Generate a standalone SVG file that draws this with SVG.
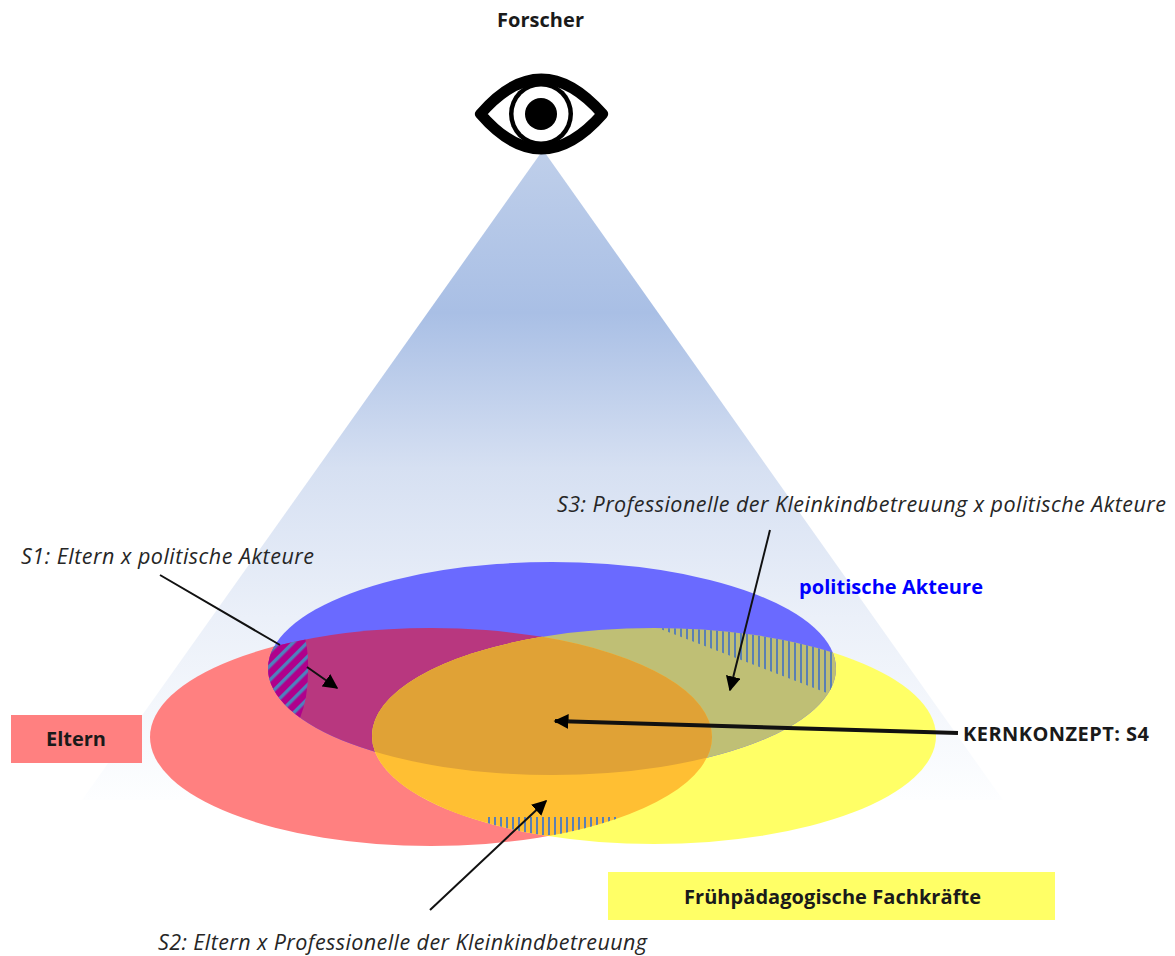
<svg xmlns="http://www.w3.org/2000/svg" width="1175" height="956" viewBox="0 0 1175 956">
<style>
text{font-family:"Open Sans","Noto Sans","Liberation Sans",sans-serif;fill:#1a1a1a}
.b{font-weight:700;font-size:20px}
.i{font-style:italic;font-size:21.500px;fill:#262626}
.ar{stroke:#111;fill:none}
</style>
<defs>
<linearGradient id="cone" x1="0" y1="0" x2="0" y2="1">
<stop offset="0" stop-color="#bfcfea"/><stop offset=".25" stop-color="#a9bfe5"/><stop offset=".49" stop-color="#d6e0f2"/><stop offset=".72" stop-color="#ebf0f9"/><stop offset="1" stop-color="#fdfeff"/>
</linearGradient>
<clipPath id="cr"><ellipse cx="431" cy="737" rx="281" ry="109"/></clipPath>
<clipPath id="cy"><ellipse cx="654" cy="736" rx="282" ry="108"/></clipPath>
<clipPath id="cb"><ellipse cx="552" cy="668.500" rx="284" ry="106.500"/></clipPath>
<clipPath id="cry" clip-path="url(#cr)"><ellipse cx="654" cy="736" rx="282" ry="108"/></clipPath>
<clipPath id="cby" clip-path="url(#cb)"><ellipse cx="654" cy="736" rx="282" ry="108"/></clipPath>
<clipPath id="cbr" clip-path="url(#cb)"><ellipse cx="431" cy="737" rx="281" ry="109"/></clipPath>
<pattern id="diag" width="10" height="10" patternUnits="userSpaceOnUse" patternTransform="rotate(45)">
<rect width="10" height="10" fill="#b0008c"/><rect width="3.400" height="10" fill="#4f81bd"/>
</pattern>
<pattern id="vert" x="662" width="6" height="10" patternUnits="userSpaceOnUse">
<rect width="2" height="10" fill="#5a80b4"/>
</pattern>
<marker id="ah" viewBox="0 0 10 10" refX="9" refY="5" markerWidth="15" markerHeight="15" markerUnits="userSpaceOnUse" orient="auto"><path d="M0 0L10 5L0 10Z" fill="#000"/></marker>
</defs>
<g id="cone-view"><path d="M543 150L1003 800H82Z" fill="url(#cone)"/></g>
<g id="sets">
<g id="set-eltern"><ellipse cx="431" cy="737" rx="281" ry="109" fill="#ff8080"/></g>
<g id="set-fachkraefte"><ellipse cx="654" cy="736" rx="282" ry="108" fill="#ffff66"/></g>
<g id="set-politik"><ellipse cx="552" cy="668.500" rx="284" ry="106.500" fill="#6a6aff"/></g>
<rect x="140" y="550" width="800" height="300" fill="#b8377f" clip-path="url(#cbr)"/>
<rect x="140" y="550" width="800" height="300" fill="#bfbf75" clip-path="url(#cby)"/>
<rect x="140" y="550" width="800" height="300" fill="#ffbf33" clip-path="url(#cry)"/>
<g clip-path="url(#cb)"><rect x="140" y="550" width="800" height="300" fill="#e0a236" clip-path="url(#cry)"/></g>
</g>
<g id="hatches">
<g id="hatch-s1" clip-path="url(#cbr)"><path d="M260 630H303Q309 650 308 672Q308 698 300 718L260 720Z" fill="url(#diag)"/></g>
<g id="hatch-s3" clip-path="url(#cb)"><g clip-path="url(#cy)"><path d="M650 625L845 700V620H650Z" fill="url(#vert)"/></g></g>
<g id="hatch-s2" clip-path="url(#cr)"><g clip-path="url(#cy)"><rect x="486" y="817" width="132" height="18" fill="url(#vert)"/></g></g>
</g>
<g id="eye">
<path d="M480.500 114Q541 44 602.500 114Q541 184 480.500 114Z" fill="#fff" stroke="#000" stroke-width="11" stroke-linejoin="round"/>
<circle cx="541" cy="114" r="32" fill="#000"/>
<circle cx="541" cy="114" r="27.500" fill="#fff"/>
<circle cx="541" cy="114" r="16" fill="#000"/>
</g>
<g id="connectors">
<path class="ar" stroke-width="2" d="M160 575L280 645M307 667L337 688" marker-end="url(#ah)"/>
<path class="ar" stroke-width="2" d="M770 530L730 690" marker-end="url(#ah)"/>
<path class="ar" stroke-width="2" d="M430 910L546 801" marker-end="url(#ah)"/>
<path class="ar" stroke-width="4" d="M958 733L555 721" marker-end="url(#ah)"/>
</g>
<g id="label-forscher"><text class="b" x="497" y="27" textLength="87">Forscher</text></g>
<g id="label-eltern"><rect x="11" y="715" width="131" height="48" fill="#ff8080"/><text class="b" x="46" y="746" textLength="60">Eltern</text></g>
<g id="label-fach"><rect x="608" y="872" width="447" height="48" fill="#ffff66"/><text class="b" x="684" y="904" textLength="297">Frühpädagogische Fachkräfte</text></g>
<g id="label-politik"><text class="b" x="799" y="594" textLength="184" style="fill:#0000ff">politische Akteure</text></g>
<g id="label-kern"><text class="b" x="963" y="741" textLength="186">KERNKONZEPT: S4</text></g>
<g id="label-s1"><text class="i" x="21" y="564" textLength="293">S1: Eltern x politische Akteure</text></g>
<g id="label-s2"><text class="i" x="158" y="950" textLength="489">S2: Eltern x Professionelle der Kleinkindbetreuung</text></g>
<g id="label-s3"><text class="i" x="557" y="512" textLength="609">S3: Professionelle der Kleinkindbetreuung x politische Akteure</text></g>
</svg>
